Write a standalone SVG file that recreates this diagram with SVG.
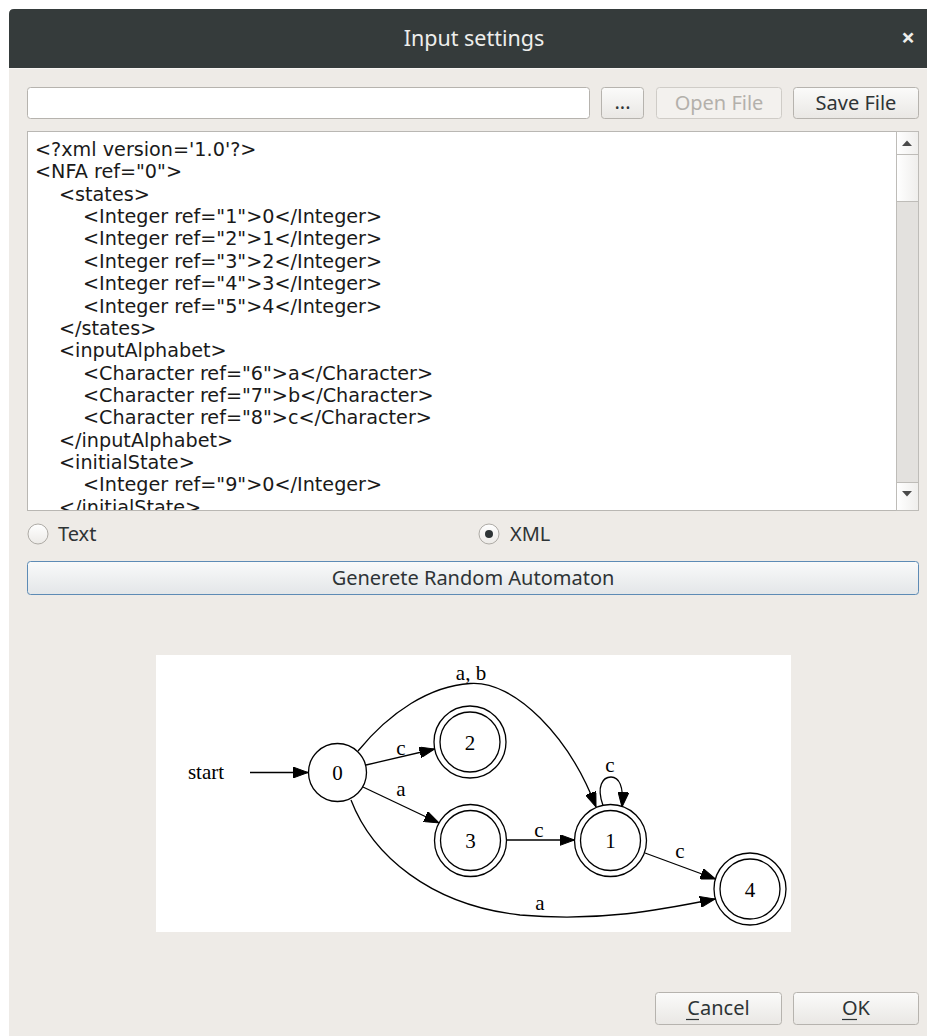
<svg xmlns="http://www.w3.org/2000/svg" width="927" height="1036" viewBox="0 0 927 1036">
  <defs>
    <linearGradient id="btnFill" x1="0" y1="0" x2="0" y2="1">
      <stop offset="0" stop-color="#fbfbfa"/>
      <stop offset="1" stop-color="#e9e7e4"/>
    </linearGradient>
    <linearGradient id="genFill" x1="0" y1="0" x2="0" y2="1">
      <stop offset="0" stop-color="#f9fafa"/>
      <stop offset="1" stop-color="#e3e6e8"/>
    </linearGradient>
    <linearGradient id="radioFill" x1="0" y1="0" x2="0" y2="1">
      <stop offset="0" stop-color="#ffffff"/>
      <stop offset="1" stop-color="#eceae7"/>
    </linearGradient>
    <linearGradient id="scrollBtn" x1="0" y1="0" x2="1" y2="0">
      <stop offset="0" stop-color="#ffffff"/>
      <stop offset="1" stop-color="#efeeec"/>
    </linearGradient>
    <clipPath id="editorClip">
      <rect x="28" y="132" width="868" height="378"/>
    </clipPath>
    <marker id="arrow" viewBox="0 0 15 11" refX="15" refY="5.5" markerWidth="15" markerHeight="11" markerUnits="userSpaceOnUse" orient="auto">
      <path d="M0,0 L15,5.5 L0,11 z" fill="#000" stroke="#000" stroke-width="1"/>
    </marker>
  </defs>
  <style>
    .ui { font-family: "Noto Sans", "Open Sans", "DejaVu Sans", sans-serif; font-size: 20px; fill: #2e3436; }
    .title { font-family: "Noto Sans", "DejaVu Sans", sans-serif; font-size: 21.5px; fill: #eeeeec; }
    .close { font-family: "Noto Sans", "DejaVu Sans", sans-serif; font-size: 24px; font-weight: bold; fill: #eeeeec; }
    .code { font-family: "DejaVu Sans", "Noto Sans", sans-serif; font-size: 19.2px; fill: #1a1a1a; }
    .btn { fill: url(#btnFill); stroke: #b6b3ae; stroke-width: 1; }
    .btn-off { fill: #f3f1ee; stroke: #cfccc7; stroke-width: 1; }
    .gv { font-family: "Liberation Serif", "Times New Roman", serif; font-size: 21px; fill: #000; }
    .state { fill: none; stroke: #000; stroke-width: 1.3; }
    .edge { fill: none; stroke: #000; stroke-width: 1.3; marker-end: url(#arrow); }
  </style>

  <!-- desktop behind the dialog -->
  <rect x="0" y="0" width="927" height="1036" fill="#ffffff"/>

  <!-- dialog body -->
  <rect x="9" y="9" width="930" height="1040" rx="5" fill="#eeebe7"/>

  <!-- header bar -->
  <g id="header">
    <path d="M9,68 L9,14 Q9,9 14,9 L927,9 L927,68 Z" fill="#353b3b"/>
    <line x1="9" y1="68.5" x2="927" y2="68.5" stroke="#f7f5f2" stroke-width="1"/>
    <text class="title" x="474" y="45.5" text-anchor="middle">Input settings</text>
    <text class="close" x="908" y="46" text-anchor="middle">×</text>
  </g>

  <!-- file row -->
  <g id="file-row">
    <rect x="27.5" y="87.5" width="562" height="31" rx="3" fill="#ffffff" stroke="#b6b3ae"/>
    <g id="browse-button">
      <rect class="btn" x="601.5" y="87.5" width="42" height="31" rx="3"/>
      <text class="ui" x="622.5" y="109" text-anchor="middle" font-size="16">...</text>
    </g>
    <g id="open-button">
      <rect class="btn-off" x="656.5" y="87.5" width="125" height="31" rx="3"/>
      <text class="ui" x="719" y="110" text-anchor="middle" style="fill:#b3b0ab">Open File</text>
    </g>
    <g id="save-button">
      <rect class="btn" x="793.5" y="87.5" width="125" height="31" rx="3"/>
      <text class="ui" x="856" y="110" text-anchor="middle">Save File</text>
    </g>
  </g>

  <!-- source editor -->
  <g id="editor">
    <rect x="27.5" y="131.5" width="891" height="379" fill="#ffffff" stroke="#b9b7b3"/>
    <g clip-path="url(#editorClip)" class="code">
      <text x="35" y="156">&lt;?xml version='1.0'?&gt;</text>
      <text x="35" y="178.4">&lt;NFA ref="0"&gt;</text>
      <text x="59" y="200.7">&lt;states&gt;</text>
      <text x="83" y="223.1">&lt;Integer ref="1"&gt;0&lt;/Integer&gt;</text>
      <text x="83" y="245.4">&lt;Integer ref="2"&gt;1&lt;/Integer&gt;</text>
      <text x="83" y="267.8">&lt;Integer ref="3"&gt;2&lt;/Integer&gt;</text>
      <text x="83" y="290.1">&lt;Integer ref="4"&gt;3&lt;/Integer&gt;</text>
      <text x="83" y="312.5">&lt;Integer ref="5"&gt;4&lt;/Integer&gt;</text>
      <text x="59" y="334.8">&lt;/states&gt;</text>
      <text x="59" y="357.2">&lt;inputAlphabet&gt;</text>
      <text x="83" y="379.5">&lt;Character ref="6"&gt;a&lt;/Character&gt;</text>
      <text x="83" y="401.9">&lt;Character ref="7"&gt;b&lt;/Character&gt;</text>
      <text x="83" y="424.2">&lt;Character ref="8"&gt;c&lt;/Character&gt;</text>
      <text x="59" y="446.6">&lt;/inputAlphabet&gt;</text>
      <text x="59" y="468.9">&lt;initialState&gt;</text>
      <text x="83" y="491.3">&lt;Integer ref="9"&gt;0&lt;/Integer&gt;</text>
      <text x="59" y="513.6">&lt;/initialState&gt;</text>
    </g>
    <!-- vertical scrollbar -->
    <g id="scrollbar">
      <rect x="896.5" y="131.5" width="22" height="379" fill="#e3e1de" stroke="#bebcb8"/>
      <rect x="896.5" y="131.5" width="22" height="23" fill="url(#scrollBtn)" stroke="#bebcb8"/>
      <rect x="896.5" y="154.5" width="22" height="47" fill="url(#scrollBtn)" stroke="#bebcb8"/>
      <rect x="896.5" y="482.5" width="22" height="28" fill="url(#scrollBtn)" stroke="#bebcb8"/>
      <path d="M902,146 L912,146 L907,140.5 Z" fill="#4a4a4a"/>
      <path d="M902,491 L912,491 L907,496.5 Z" fill="#4a4a4a"/>
    </g>
  </g>

  <!-- input format choice -->
  <g id="radio-text">
    <circle cx="38" cy="534" r="10" fill="url(#radioFill)" stroke="#aeaba6"/>
    <text class="ui" x="58" y="541">Text</text>
  </g>
  <g id="radio-xml">
    <circle cx="489" cy="534" r="10" fill="url(#radioFill)" stroke="#aeaba6"/>
    <circle cx="489" cy="534" r="4" fill="#2e3436"/>
    <text class="ui" x="510" y="541">XML</text>
  </g>

  <g id="generate-button">
    <rect x="27.5" y="561.5" width="891" height="33" rx="3" fill="url(#genFill)" stroke="#5d8bb5"/>
    <text class="ui" x="473" y="584.5" text-anchor="middle">Generete Random Automaton</text>
  </g>

  <!-- automaton preview -->
  <rect x="156" y="655" width="635" height="277" fill="#ffffff"/>

  <g id="connectors">
    <path class="edge" d="M250,772.5 L308,772.5"/>
    <path class="edge" d="M366,765 L434.5,749"/>
    <path class="edge" d="M363,787 L439,823"/>
    <path class="edge" d="M358,751 C390,712 430,686 470,683.5 C515,680 570,738 596,807"/>
    <path class="edge" d="M603,805.5 C596,786 603,777 611,777 C619,777 624,786 622,807"/>
    <path class="edge" d="M506,840 L574.5,840"/>
    <path class="edge" d="M645,853 L715.5,879"/>
    <path class="edge" d="M351,800 C372,855 430,905 520,915 C600,922 660,910 715,899"/>
    <text class="gv" x="401" y="755" text-anchor="middle">c</text>
    <text class="gv" x="401" y="796" text-anchor="middle">a</text>
    <text class="gv" x="471" y="680" text-anchor="middle">a, b</text>
    <text class="gv" x="610" y="772" text-anchor="middle">c</text>
    <text class="gv" x="539" y="837" text-anchor="middle">c</text>
    <text class="gv" x="680" y="858" text-anchor="middle">c</text>
    <text class="gv" x="540" y="910" text-anchor="middle">a</text>
  </g>

  <g id="start">
    <text class="gv" x="206" y="779" text-anchor="middle">start</text>
  </g>
  <g id="n0">
    <circle class="state" cx="337.5" cy="772.5" r="29"/>
    <text class="gv" x="337.5" y="779.5" text-anchor="middle">0</text>
  </g>
  <g id="n2">
    <circle class="state" cx="470" cy="742" r="36"/>
    <circle class="state" cx="470" cy="742" r="30"/>
    <text class="gv" x="470" y="749.5" text-anchor="middle">2</text>
  </g>
  <g id="n3">
    <circle class="state" cx="470.5" cy="840.5" r="36"/>
    <circle class="state" cx="470.5" cy="840.5" r="30"/>
    <text class="gv" x="470.5" y="848" text-anchor="middle">3</text>
  </g>
  <g id="n1">
    <circle class="state" cx="610.5" cy="840.5" r="36"/>
    <circle class="state" cx="610.5" cy="840.5" r="30"/>
    <text class="gv" x="610.5" y="848" text-anchor="middle">1</text>
  </g>
  <g id="n4">
    <circle class="state" cx="750" cy="889" r="36"/>
    <circle class="state" cx="750" cy="889" r="30"/>
    <text class="gv" x="750" y="896.5" text-anchor="middle">4</text>
  </g>

  <!-- dialog actions -->
  <g id="cancel-button">
    <rect class="btn" x="655.5" y="992.5" width="126" height="32" rx="3"/>
    <text class="ui" x="718.5" y="1015" text-anchor="middle">Cancel</text>
    <line x1="686" y1="1019.5" x2="699" y2="1019.5" stroke="#2e3436" stroke-width="1.2"/>
  </g>
  <g id="ok-button">
    <rect class="btn" x="793.5" y="992.5" width="125" height="32" rx="3"/>
    <text class="ui" x="856" y="1015" text-anchor="middle">OK</text>
    <line x1="842" y1="1019.5" x2="857" y2="1019.5" stroke="#2e3436" stroke-width="1.2"/>
  </g>
</svg>
